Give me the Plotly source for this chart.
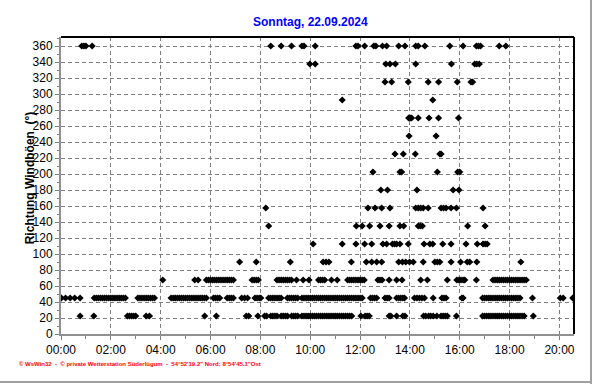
import pandas as pd
import plotly.graph_objects as go

DAY = "2024-09-22"
TITLE = "Sonntag, 22.09.2024"
Y_TITLE = "Richtung Windböen  (°)"
FOOTER = "© WsWin32  -  © private Wetterstation Süderlügum  -  54°52'19.2\" Nord; 8°54'45.1\"Ost"

# minutes after midnight for each gust direction (degrees)
m_360 = [50, 55, 60, 75, 505, 530, 555, 580, 585, 612, 710, 715, 731, 753, 758, 774, 784, 813, 828,
         854, 860, 876, 936, 968, 1000, 1005, 1010, 1055, 1071]
m_337 = [599, 612, 782, 792, 805, 854, 940, 996, 1001, 1007]
m_315 = [780, 796, 836, 884, 909, 954, 987, 991]
m_292 = [677, 895]
m_270 = [837, 841, 844, 860, 886, 909, 957]
m_247 = [838, 903]
m_225 = [804, 824, 853, 912, 915]
m_202 = [751, 816, 820, 906, 955, 960]
m_180 = [770, 786, 857, 944, 958]
m_157 = [493, 739, 756, 772, 792, 854, 860, 866, 872, 884, 915, 921, 927, 939, 952, 1016]
m_135 = [500, 711, 725, 743, 768, 790, 816, 825, 860, 865, 870, 979, 1021]
m_112 = [607, 677, 710, 731, 748, 775, 784, 798, 803, 808, 816, 836, 874, 888, 895, 919, 939, 975,
         1002, 1016, 1021, 1026]
m_90 = [430, 470, 552, 631, 638, 645, 699, 735, 748, 760, 772, 813, 822, 830, 839, 848, 872, 900,
        906, 912, 939, 962, 978, 984, 1001, 1107]
m_67 = [245, 322, 330, 350, 355, 360, 365, 370, 375, 380, 385, 390, 395, 400, 405, 410, 415, 460,
        465, 470, 475, 520, 525, 530, 535, 540, 545, 550, 555, 567, 583, 597, 620, 625, 630, 635,
        651, 665, 690, 695, 700, 705, 710, 715, 720, 725, 730, 763, 768, 773, 790, 808, 821, 866,
        882, 930, 953, 958, 963, 968, 972, 1000, 1040, 1045, 1050, 1055, 1060, 1065, 1070, 1075,
        1080, 1085, 1090, 1095, 1100, 1105, 1110, 1115, 1120]
m_45 = [1, 11, 22, 33, 46, 80, 85, 90, 95, 100, 105, 110, 115, 120, 125, 130, 135, 140, 145, 150,
        155, 185, 190, 195, 200, 205, 210, 215, 220, 225, 265, 270, 275, 280, 285, 290, 295, 300,
        305, 310, 315, 320, 325, 330, 335, 340, 345, 350, 367, 372, 377, 382, 400, 405, 410, 415,
        435, 442, 449, 467, 472, 477, 481, 500, 505, 510, 515, 520, 525, 530, 545, 550, 555, 560,
        565, 570, 580, 585, 590, 595, 600, 605, 610, 615, 620, 625, 630, 635, 640, 645, 650, 655,
        660, 665, 670, 675, 680, 685, 690, 695, 700, 705, 710, 715, 720, 725, 745, 750, 755, 760,
        780, 785, 790, 808, 813, 818, 823, 827, 851, 857, 863, 869, 875, 896, 917, 922, 927, 965,
        968, 1015, 1020, 1025, 1030, 1035, 1040, 1045, 1050, 1055, 1060, 1065, 1070, 1075, 1080,
        1085, 1090, 1095, 1100, 1105, 1135, 1202, 1209, 1232]
m_22 = [46, 79, 160, 165, 170, 175, 180, 205, 213, 346, 374, 446, 452, 474, 490, 495, 505, 510,
        515, 520, 530, 535, 540, 545, 555, 560, 565, 570, 580, 585, 590, 595, 600, 605, 610, 615,
        620, 625, 630, 635, 640, 645, 650, 655, 660, 665, 670, 675, 680, 685, 690, 695, 700, 722,
        732, 737, 742, 790, 794, 808, 823, 828, 873, 878, 885, 890, 896, 905, 915, 920, 925, 930,
        952, 1015, 1020, 1025, 1030, 1035, 1040, 1045, 1050, 1055, 1060, 1065, 1070, 1075, 1080,
        1085, 1090, 1095, 1100, 1105, 1110, 1115, 1137]

series = [(360, m_360), (337.5, m_337), (315, m_315), (292.5, m_292), (270, m_270),
          (247.5, m_247), (225, m_225), (202.5, m_202), (180, m_180), (157.5, m_157),
          (135, m_135), (112.5, m_112), (90, m_90), (67.5, m_67), (45, m_45), (22.5, m_22)]

xs, ys = [], []
for deg, mins in series:
    for m in mins:
        xs.append(pd.Timestamp(DAY) + pd.Timedelta(minutes=m))
        ys.append(deg)

fig = go.Figure(go.Scatter(x=xs, y=ys, mode="markers",
                           marker=dict(symbol="diamond", size=5.5, color="black", line_width=0),
                           hoverinfo="skip"))

FONT = "Liberation Sans, Arial, sans-serif"
GRID = "#808080"
fig.update_layout(
    width=592, height=384,
    margin=dict(l=61, r=18, t=37, b=50),
    paper_bgcolor="white", plot_bgcolor="white",
    showlegend=False,
    font=dict(family=FONT, size=12, color="black"),
    xaxis=dict(type="date", range=[DAY + " 00:00", DAY + " 20:35"],
               dtick=2 * 3600 * 1000, tick0=DAY + " 00:00", tickformat="%H:%M",
               showgrid=True, gridcolor=GRID, griddash="4px,3px", gridwidth=1,
               showline=True, linecolor="#909090", linewidth=2,
               ticks="outside", ticklen=4, tickcolor="#808080",
               minor=dict(dtick=3600 * 1000, ticks="outside", ticklen=3, tickcolor="#808080",
                          showgrid=False),
               zeroline=False, fixedrange=True),
    yaxis=dict(range=[0, 371.25], dtick=20, tick0=0,
               showgrid=True, gridcolor=GRID, griddash="4px,3px", gridwidth=1,
               showline=True, linecolor="#909090", linewidth=2,
               ticks="outside", ticklen=4, tickcolor="#808080",
               minor=dict(dtick=10, ticks="outside", ticklen=2, tickcolor="#808080",
                          showgrid=False),
               zeroline=False, fixedrange=True),
    shapes=[
        dict(type="line", xref="paper", yref="paper", x0=0, x1=1, y0=1, y1=1,
             line=dict(color="black", width=2)),
        dict(type="line", xref="paper", yref="paper", x0=1, x1=1, y0=0, y1=1,
             line=dict(color="black", width=2)),
        dict(type="line", xref="paper", yref="paper", x0=1.0332, x1=1.0332, y0=-0.17, y1=1.2,
             line=dict(color="#a0a0a0", width=2)),
        dict(type="line", xref="paper", yref="paper", x0=-0.2, x1=1.0332, y0=-0.1616, y1=-0.1616,
             line=dict(color="#a0a0a0", width=2)),
    ],
    annotations=[
        dict(text="<b>" + TITLE + "</b>", xref="paper", yref="paper", x=0.487, y=1.0505,
             xanchor="center", yanchor="middle", showarrow=False,
             font=dict(family=FONT, size=12, color="#0000ff")),
        dict(text="<b>" + Y_TITLE + "</b>", xref="paper", yref="paper", x=-0.060, y=0.525,
             xanchor="center", yanchor="middle", textangle=-90, showarrow=False,
             font=dict(family=FONT, size=12, color="black")),
        dict(text="<b>" + FOOTER + "</b>", xref="paper", yref="paper", x=-0.0849, y=-0.101,
             xanchor="left", yanchor="middle", showarrow=False,
             font=dict(family=FONT, size=6, color="#ff0000")),
    ],
)

fig.write_html("out.html", config={"displayModeBar": False})
